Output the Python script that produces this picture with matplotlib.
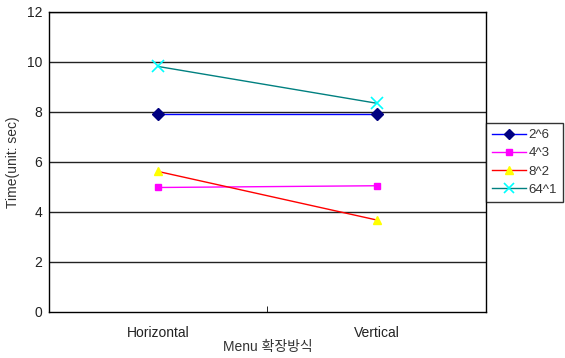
import matplotlib.pyplot as plt
from matplotlib.ticker import FixedLocator

plt.rcParams['font.family'] = ['Liberation Sans', 'Noto Sans CJK KR', 'DejaVu Sans']

# menu layouts and timing per configuration
categories = ['Horizontal', 'Vertical']
labels = ['2^6', '4^3', '8^2', '64^1']
t_2_6 = [7.9, 7.9]
t_4_3 = [4.98, 5.05]
t_8_2 = [5.62, 3.68]
t_64_1 = [9.82, 8.35]

fig = plt.figure(figsize=(5.65, 3.58), dpi=100)
ax = fig.add_axes([0.0867, 0.1285, 0.7733, 0.838])

x = [0.5, 1.5]
ax.plot(x, t_2_6, color='#0000ff', lw=1, marker='D', ms=6,
        mfc='#000080', mec='#000080', label=labels[0])
ax.plot(x, t_4_3, color='#ff00ff', lw=1, marker='s', ms=5,
        mfc='#ff00ff', mec='#ff00ff', label=labels[1])
ax.plot(x, t_8_2, color='#ff0000', lw=1, marker='^', ms=6,
        mfc='#ffff00', mec='#ffff00', label=labels[2])
ax.plot(x, t_64_1, color='#008080', lw=1, marker='x', ms=8, mew=1.2,
        mfc='#00ffff', mec='#00ffff', label=labels[3])

ax.set_xlim(0, 2)
ax.set_ylim(0, 12)
ax.set_yticks(range(0, 13, 2))
ax.set_xticks(x)
ax.set_xticklabels(categories)
ax.xaxis.set_minor_locator(FixedLocator([1]))
ax.tick_params(axis='x', which='major', length=0, pad=10)
ax.tick_params(axis='x', which='minor', direction='in', length=4, color='black')
ax.tick_params(axis='y', length=0, pad=5)
ax.tick_params(labelsize=10, labelcolor='#222222')

for yv in range(2, 13, 2):
    ax.axhline(yv, color='#222222', lw=1, zorder=0)
for s in ax.spines.values():
    s.set_color('black')
    s.set_linewidth(1)

ax.set_ylabel('Time(unit: sec)', fontsize=10, color='#333333', labelpad=5)
ax.set_xlabel('Menu 확장방식', fontsize=10, color='#333333', labelpad=0)

leg = ax.legend(loc='upper left', bbox_to_anchor=(1.0, 0.63), borderaxespad=0,
                frameon=True, fancybox=False, fontsize=9.5, handlelength=2.6,
                labelspacing=0.45, borderpad=0.45, handletextpad=0.2,
                markerscale=0.85)
leg.get_frame().set_edgecolor('black')
leg.get_frame().set_linewidth(1)
for t in leg.get_texts():
    t.set_color('#333333')

fig.savefig('out.png', dpi=100)
